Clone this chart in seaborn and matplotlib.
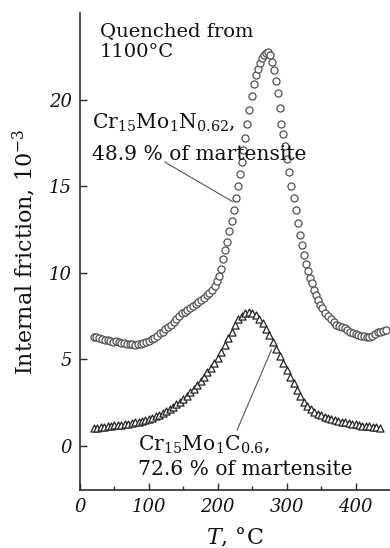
import matplotlib
matplotlib.use("Agg")
import matplotlib.pyplot as plt
import seaborn as sns
import pandas as pd

# Internal friction vs temperature, Cr15Mo1N0.62 (circles)
temp_n = [20, 24, 28, 32, 36, 40, 44, 48, 52, 56, 60, 64, 68, 72, 76, 80, 84, 88, 92, 96,
          100, 104, 108, 112, 116, 120, 124, 128, 132, 136, 140, 144, 148, 152, 156, 160,
          164, 168, 172, 176, 180, 184, 188, 192, 196, 199, 202, 205, 208, 211, 214, 217,
          220, 223, 226, 229, 232, 235, 237, 240, 243, 246, 249, 252, 255, 258, 261, 264,
          267, 270, 273, 276, 279, 282, 285, 287, 290, 292, 295, 298, 301, 304, 307, 310,
          313, 316, 319, 322, 325, 328, 331, 334, 337, 340, 343, 346, 349, 352, 356, 360,
          364, 368, 372, 376, 380, 384, 388, 392, 396, 400, 404, 408, 412, 416, 420, 424,
          428, 432, 436, 440, 444]
q_n = [6.3, 6.3, 6.2, 6.15, 6.1, 6.1, 6.05, 6.0, 6.05, 6.0, 5.95, 5.95, 5.9, 5.9, 5.9, 5.85,
       5.9, 5.9, 5.95, 6.0, 6.05, 6.15, 6.25, 6.35, 6.5, 6.6, 6.75, 6.85, 7.0, 7.15, 7.3,
       7.5, 7.65, 7.75, 7.85, 7.95, 8.05, 8.2, 8.3, 8.4, 8.55, 8.7, 8.85, 9.0, 9.25, 9.5,
       9.8, 10.2, 10.8, 11.3, 11.8, 12.4, 13.0, 13.6, 14.3, 15.0, 15.7, 16.4, 17.1, 17.8,
       18.6, 19.4, 20.2, 20.9, 21.4, 21.8, 22.1, 22.4, 22.6, 22.7, 22.75, 22.6, 22.2, 21.7,
       21.1, 20.4, 19.5, 18.6, 18.0, 17.3, 16.6, 15.8, 15.0, 14.3, 13.6, 12.9, 12.2, 11.6,
       11.0, 10.5, 10.1, 9.7, 9.4, 9.0, 8.7, 8.4, 8.15, 7.95, 7.7, 7.5, 7.3, 7.15, 7.0,
       6.9, 6.85, 6.8, 6.7, 6.6, 6.5, 6.45, 6.4, 6.35, 6.35, 6.3, 6.3, 6.35, 6.45, 6.55,
       6.6, 6.65, 6.7]

# Internal friction vs temperature, Cr15Mo1C0.6 (triangles)
temp_c = [20, 25, 30, 35, 40, 45, 50, 55, 60, 65, 70, 75, 80, 85, 90, 95, 100, 105, 110,
          115, 120, 125, 130, 135, 140, 145, 150, 155, 160, 165, 170, 175, 180, 185, 190,
          195, 200, 205, 210, 215, 220, 225, 230, 235, 240, 245, 250, 255, 260, 265, 270,
          275, 280, 285, 290, 295, 300, 305, 310, 315, 320, 325, 330, 335, 340, 345, 350,
          355, 360, 365, 370, 375, 380, 385, 390, 395, 400, 405, 410, 415, 420, 425, 430, 435]
q_c = [1.05, 1.05, 1.1, 1.1, 1.12, 1.15, 1.18, 1.2, 1.22, 1.25, 1.28, 1.32, 1.36, 1.4, 1.45,
       1.5, 1.56, 1.63, 1.7, 1.8, 1.9, 2.0, 2.1, 2.25, 2.4, 2.55, 2.7, 2.9, 3.1, 3.3, 3.5,
       3.75, 4.0, 4.25, 4.5, 4.8, 5.1, 5.4, 5.8, 6.2, 6.6, 7.0, 7.3, 7.5, 7.65, 7.75, 7.7,
       7.55, 7.35, 7.1, 6.75, 6.4, 6.0, 5.6, 5.2, 4.8, 4.4, 4.0, 3.6, 3.2, 2.85, 2.55, 2.3,
       2.1, 1.95, 1.85, 1.75, 1.65, 1.6, 1.55, 1.5, 1.45, 1.4, 1.35, 1.3, 1.27, 1.25, 1.2,
       1.17, 1.15, 1.12, 1.1, 1.07, 1.05]

x_ticks = [0, 100, 200, 300, 400]
y_ticks = [0, 5, 10, 15, 20]

sns.set_theme(style="ticks")
plt.rcParams["font.family"] = ["DejaVu Serif"]
plt.rcParams["mathtext.fontset"] = "dejavuserif"

ink = "#2b2b2b"
fig = plt.figure(figsize=(3.9, 5.48), dpi=100)
ax = fig.add_axes([0.205, 0.106, 0.795, 0.870])

df_n = pd.DataFrame({"T": temp_n, "Q": q_n})
df_c = pd.DataFrame({"T": temp_c, "Q": q_c})

sns.scatterplot(data=df_c, x="T", y="Q", marker="^", s=26, facecolor="white",
                edgecolor="#222222", linewidth=0.9, ax=ax, zorder=3)
sns.scatterplot(data=df_n, x="T", y="Q", marker="o", s=26, facecolor="white",
                edgecolor="#505050", linewidth=0.9, ax=ax, zorder=3)

ax.set_xlim(0, 450)
ax.set_ylim(-2.55, 25)
ax.set_xticks(x_ticks)
ax.set_yticks(y_ticks)
ax.set_xticks([50, 150, 250, 350], minor=True)
ax.tick_params(axis="both", which="major", direction="in", length=5, width=1.0,
               color=ink, labelsize=13, labelcolor="#111111", pad=6)
ax.tick_params(axis="x", which="minor", direction="in", length=3, width=1.0, color=ink)
for lab in ax.get_xticklabels() + ax.get_yticklabels():
    lab.set_fontstyle("italic")

sns.despine(ax=ax)
for side in ("left", "bottom"):
    ax.spines[side].set_color(ink)
    ax.spines[side].set_linewidth(1.2)

ax.set_xlabel("$T$, °C", fontsize=16, color="#111111", labelpad=7)
ax.set_ylabel("Internal friction, 10$^{-3}$", fontsize=16, color="#111111", labelpad=8)

txt = dict(fontsize=14.6, color="#111111")
ax.text(29, 24.5, "Quenched from\n1100°C", va="top", ha="left", linespacing=1.25,
        fontsize=14, color="#111111")

ax.text(17, 18.4, "Cr$_{15}$Mo$_{1}$N$_{0.62}$,", va="baseline", ha="left", **txt)
ax.text(17, 16.5, "48.9 % of martensite", va="baseline", ha="left", **txt)
ax.annotate("", xy=(222, 14.1), xytext=(123, 16.4),
            arrowprops=dict(arrowstyle="-", color="#555555", lw=0.8, shrinkA=0, shrinkB=0))

ax.text(84, -0.23, "Cr$_{15}$Mo$_{1}$C$_{0.6}$,", va="baseline", ha="left", **txt)
ax.text(84, -1.68, "72.6 % of martensite", va="baseline", ha="left", **txt)
ax.annotate("", xy=(278, 5.55), xytext=(228, 0.9),
            arrowprops=dict(arrowstyle="-", color="#555555", lw=0.8, shrinkA=0, shrinkB=0))

fig.savefig("out.png", dpi=100)
